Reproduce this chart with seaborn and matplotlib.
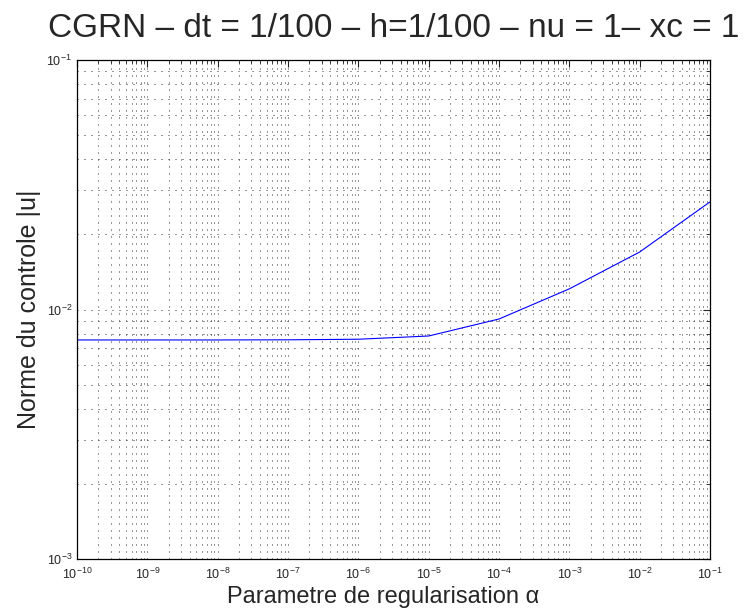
import numpy as np
import pandas as pd
import seaborn as sns
import matplotlib.pyplot as plt
from matplotlib.ticker import LogLocator, NullFormatter

# valeurs
alpha = [1e-10, 1e-9, 1e-8, 1e-7, 1e-6, 1e-5, 1e-4, 1e-3, 1e-2, 1e-1]
norme_u = [0.00755, 0.00755, 0.00755, 0.00756, 0.00760, 0.00783,
           0.00916, 0.0121, 0.0170, 0.0270]

titre = "CGRN – dt = 1/100 – h=1/100 – nu = 1– xc = 1"
xlab = "Parametre de regularisation α"
ylab = "Norme du controle |u|"

df = pd.DataFrame({"alpha": alpha, "norme": norme_u})

sns.set_style("white")
plt.rcParams['font.family'] = ['Liberation Sans', 'DejaVu Sans']
plt.rcParams['mathtext.fontset'] = 'custom'
plt.rcParams['mathtext.rm'] = 'Liberation Sans'
plt.rcParams['mathtext.it'] = 'Liberation Sans'

fig = plt.figure(figsize=(7.55, 6.10), dpi=100)
ax = fig.add_axes([77 / 755, 1 - 559 / 610, (710 - 77) / 755, (559 - 60) / 610])

sns.lineplot(data=df, x="alpha", y="norme", color="blue", linewidth=0.8, ax=ax)

ax.set_xscale("log")
ax.set_yscale("log")
ax.set_xlim(1e-10, 1e-1)
ax.set_ylim(1e-3, 1e-1)

for axis in [ax.xaxis, ax.yaxis]:
    axis.set_major_locator(LogLocator(base=10, numticks=20))
    axis.set_minor_locator(LogLocator(base=10, subs=np.arange(2, 10), numticks=200))
    axis.set_minor_formatter(NullFormatter())

#### grille pointillee facon matlab (points espaces)
ax.grid(True, which="both", linestyle=(0, (1, 6)), color="0.2", linewidth=0.72)

ax.tick_params(which="both", direction="in", top=True, right=True, labelsize=9)
ax.tick_params(axis="x", which="major", pad=5.5)
ax.tick_params(axis="y", which="major", pad=3.5)
ax.tick_params(which="major", length=5, width=0.8)
ax.tick_params(which="minor", length=3, width=0.6)
for s in ax.spines.values():
    s.set_linewidth(0.9)
    s.set_color("black")

ax.set_xlabel(xlab, fontsize=17)
ax.xaxis.set_label_coords(0.484, -27 / 499)
ax.set_ylabel(ylab, fontsize=18)
ax.yaxis.set_label_coords(-36 / 633, 0.5)
ax.set_title(titre, fontsize=24, pad=16.5)

plt.savefig("out.png", dpi=100)
